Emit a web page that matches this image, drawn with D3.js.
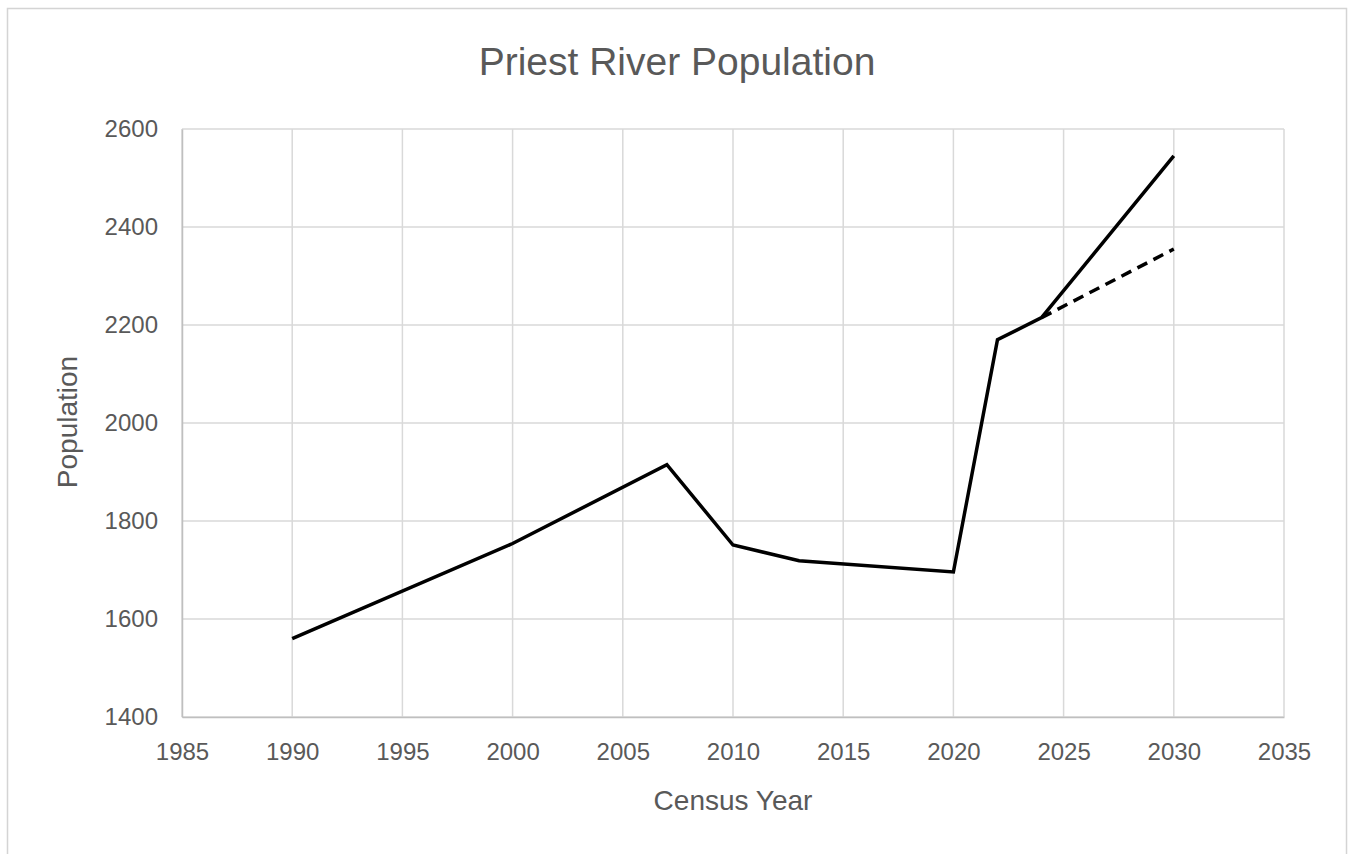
<!DOCTYPE html>
<html>
<head>
<meta charset="utf-8">
<script src="https://cdn.jsdelivr.net/npm/d3@7"></script>
<style>
  html, body { margin: 0; padding: 0; background: #fff; }
  svg { display: block; }
</style>
</head>
<body>
<svg id="chart" width="1349" height="854"></svg>
<script>
// Recorded and estimated population, Priest River
const years = [1990, 2000, 2007, 2010, 2013, 2020, 2022, 2024, 2030];
const population = [1560, 1754, 1915, 1751, 1719, 1696, 2170, 2215, 2545];
// Lower-growth projection continuing from 2024
const projYears = [2024, 2030];
const projPopulation = [2215, 2355];

const xTicks = [1985, 1990, 1995, 2000, 2005, 2010, 2015, 2020, 2025, 2030, 2035];
const yTicks = [1400, 1600, 1800, 2000, 2200, 2400, 2600];

const svg = d3.select("#chart");
const m = { left: 182, right: 1284, top: 129, bottom: 717 };

// outer frame
svg.append("rect")
  .attr("x", 7.5).attr("y", 8.5)
  .attr("width", 1339).attr("height", 860)
  .attr("fill", "#fff")
  .attr("stroke", "#d4d4d4")
  .attr("stroke-width", 1.5);

const x = d3.scaleLinear().domain([1985, 2035]).range([m.left, m.right]);
const y = d3.scaleLinear().domain([1400, 2600]).range([m.bottom, m.top]);

const textColor = "#595959";
const gridColor = "#d9d9d9";
const font = "'Liberation Sans', Arial, sans-serif";

// gridlines
const grid = svg.append("g");
grid.selectAll("line.v").data(xTicks).join("line")
  .attr("x1", d => x(d)).attr("x2", d => x(d))
  .attr("y1", m.top).attr("y2", m.bottom)
  .attr("stroke", gridColor).attr("stroke-width", 1.5);
grid.selectAll("line.h").data(yTicks).join("line")
  .attr("x1", m.left).attr("x2", m.right)
  .attr("y1", d => y(d)).attr("y2", d => y(d))
  .attr("stroke", gridColor).attr("stroke-width", 1.5);

// axes (labels only, lines come from the grid)
const xAxis = svg.append("g")
  .attr("transform", `translate(0,${m.bottom})`)
  .call(d3.axisBottom(x).tickValues(xTicks).tickFormat(d3.format("d")).tickSize(0).tickPadding(26));
xAxis.select(".domain").attr("stroke", "#bfbfbf").attr("stroke-width", 1.5);
xAxis.selectAll("text")
  .attr("fill", textColor)
  .style("font-family", font)
  .style("font-size", "24px");

const yAxis = svg.append("g")
  .attr("transform", `translate(${m.left},0)`)
  .call(d3.axisLeft(y).tickValues(yTicks).tickFormat(d3.format("d")).tickSize(0).tickPadding(24));
yAxis.select(".domain").attr("stroke", "#bfbfbf").attr("stroke-width", 1.5);
yAxis.selectAll("text")
  .attr("fill", textColor)
  .style("font-family", font)
  .style("font-size", "24px");

// lines
const line = d3.line().x(d => x(d[0])).y(d => y(d[1]));

svg.append("path")
  .datum(projYears.map((yr, i) => [yr, projPopulation[i]]))
  .attr("d", line)
  .attr("fill", "none")
  .attr("stroke", "#000")
  .attr("stroke-width", 3.5)
  .attr("stroke-dasharray", "11,7");

svg.append("path")
  .datum(years.map((yr, i) => [yr, population[i]]))
  .attr("d", line)
  .attr("fill", "none")
  .attr("stroke", "#000")
  .attr("stroke-width", 3.5)
  .attr("stroke-linejoin", "miter");

// titles
svg.append("text")
  .attr("x", 677).attr("y", 75)
  .attr("text-anchor", "middle")
  .attr("fill", textColor)
  .style("font-family", font)
  .style("font-size", "39px")
  .text("Priest River Population");

svg.append("text")
  .attr("x", 733).attr("y", 810)
  .attr("text-anchor", "middle")
  .attr("fill", textColor)
  .style("font-family", font)
  .style("font-size", "28px")
  .text("Census Year");

svg.append("text")
  .attr("transform", `translate(77,${(m.top + m.bottom) / 2 - 1}) rotate(-90)`)
  .attr("text-anchor", "middle")
  .attr("fill", textColor)
  .style("font-family", font)
  .style("font-size", "28px")
  .text("Population");
</script>
</body>
</html>
